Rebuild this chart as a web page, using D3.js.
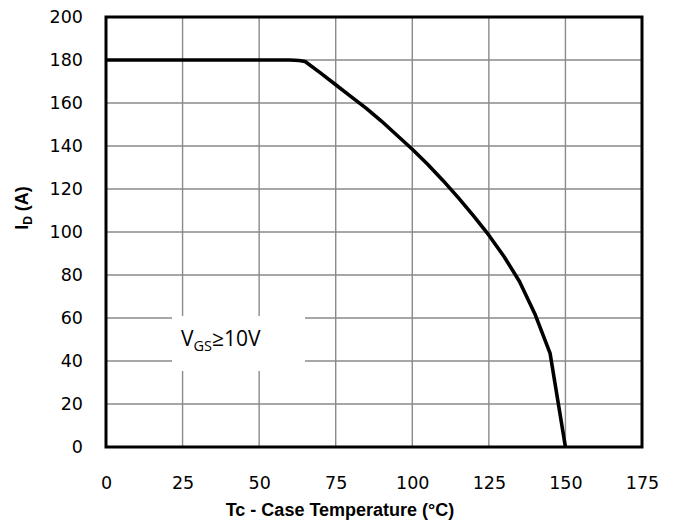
<!DOCTYPE html>
<html>
<head>
<meta charset="utf-8">
<script src="https://cdn.jsdelivr.net/npm/d3@7"></script>
<style>
  body { margin: 0; background: #fff; }
  .tick text { font-family: "DejaVu Sans", Verdana, sans-serif; font-size: 17.5px; fill: #000; }
</style>
</head>
<body>
<div id="chart"></div>
<script>
// drain current derating curve
const caseTemp = [0, 25, 50, 60, 63, 65, 70, 75, 80, 85, 90, 95, 100, 105, 110, 115, 120, 125, 130, 135, 140, 145, 150];
const drainCurrent = [180, 180, 180, 180, 179.8, 179.3, 174, 168.5, 163, 157.5, 151.5, 145, 138.5, 131.5, 124, 116, 107.5, 98.5, 88.5, 77, 62, 43.5, 0];

const xTicks = [0, 25, 50, 75, 100, 125, 150, 175];
const yTicks = [0, 20, 40, 60, 80, 100, 120, 140, 160, 180, 200];

const MARGIN = { TOP: 17, BOTTOM: 79, LEFT: 106, RIGHT: 35 };
const W = 677, H = 526;
const WIDTH = W - MARGIN.LEFT - MARGIN.RIGHT;
const HEIGHT = H - MARGIN.TOP - MARGIN.BOTTOM;

const svg = d3.select("#chart").append("svg")
  .attr("width", W).attr("height", H);

const g = svg.append("g")
  .attr("transform", `translate(${MARGIN.LEFT}, ${MARGIN.TOP})`);

const x = d3.scaleLinear().domain([0, 175]).range([0, WIDTH]);
const y = d3.scaleLinear().domain([0, 200]).range([HEIGHT, 0]);

// grid
g.append("g").selectAll("line").data(xTicks).join("line")
  .attr("x1", d => x(d)).attr("x2", d => x(d))
  .attr("y1", 0).attr("y2", HEIGHT)
  .attr("stroke", "#8a8a8a").attr("stroke-width", 1.4);
g.append("g").selectAll("line").data(yTicks).join("line")
  .attr("y1", d => y(d)).attr("y2", d => y(d))
  .attr("x1", 0).attr("x2", WIDTH)
  .attr("stroke", "#8a8a8a").attr("stroke-width", 1.4);

// axes (labels only)
const xAxis = g.append("g")
  .attr("transform", `translate(0, ${HEIGHT})`)
  .call(d3.axisBottom(x).tickValues(xTicks).tickSize(0).tickPadding(30));
const yAxis = g.append("g")
  .call(d3.axisLeft(y).tickValues(yTicks).tickSize(0).tickPadding(23));
xAxis.select(".domain").remove();
yAxis.select(".domain").remove();

// legend box
g.append("rect")
  .attr("x", 66).attr("y", 299).attr("width", 133).attr("height", 55)
  .attr("fill", "#fff");
const lbl = g.append("text")
  .attr("x", 75).attr("y", 329)
  .attr("font-family", "'Open Sans', 'DejaVu Sans', sans-serif")
  .attr("font-size", 21);
lbl.append("tspan").text("V");
lbl.append("tspan").attr("font-size", 14.5).attr("dy", 5).text("GS");
lbl.append("tspan").attr("dy", -5).text("≥10V");

// curve
const line = d3.line().x(d => x(d[0])).y(d => y(d[1]));
g.append("path")
  .datum(caseTemp.map((t, i) => [t, drainCurrent[i]]))
  .attr("d", line)
  .attr("fill", "none").attr("stroke", "#000")
  .attr("stroke-width", 3.6).attr("stroke-linejoin", "round");

// frame
g.append("rect")
  .attr("x", 0).attr("y", 0).attr("width", WIDTH).attr("height", HEIGHT)
  .attr("fill", "none").attr("stroke", "#000").attr("stroke-width", 3);

// titles
svg.append("text")
  .attr("x", 340).attr("y", 516)
  .attr("text-anchor", "middle")
  .attr("font-family", "'Liberation Sans', Arial, sans-serif")
  .attr("font-weight", "bold").attr("font-size", 18)
  .text("Tc - Case Temperature (°C)");

const yt = svg.append("text")
  .attr("transform", "translate(28, 208) rotate(-90)")
  .attr("text-anchor", "middle")
  .attr("font-family", "'Liberation Sans', Arial, sans-serif")
  .attr("font-weight", "bold").attr("font-size", 18);
yt.append("tspan").text("I");
yt.append("tspan").attr("font-size", 12).attr("dy", 4).text("D");
yt.append("tspan").attr("dy", -4).text(" (A)");
</script>
</body>
</html>
